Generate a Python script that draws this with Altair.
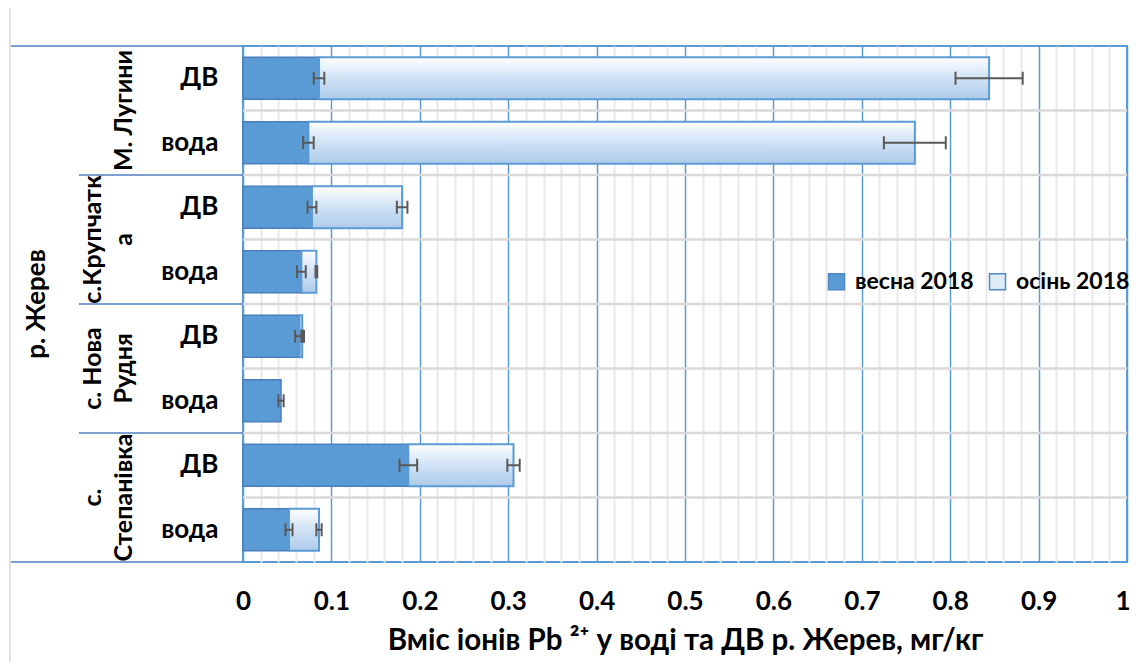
import altair as alt
import pandas as pd

FONT = "Lato, 'Open Sans', sans-serif"

# ---- data ----
sites = ["М. Лугини", "с.Крупчатка", "с. Нова Рудня", "с. Степанівка"]
site_text = ["\nМ. Лугини", "с.Крупчатк\nа", "с. Нова\nРудня", "с.\nСтепанівка"]
types = ["ДВ", "вода"]
river = "р. Жерев"
seasons = ["весна 2018", "осінь 2018"]

spring = [0.086, 0.074, 0.078, 0.066, 0.064, 0.043, 0.187, 0.052]
autumn = [0.758, 0.686, 0.102, 0.017, 0.003, 0.000, 0.119, 0.034]
spring_err = [0.006, 0.006, 0.005, 0.005, 0.005, 0.003, 0.010, 0.004]
autumn_err = [0.038, 0.035, 0.006, 0.001, 0.001, 0.000, 0.007, 0.003]

x_ticks = [round(i * 0.02, 2) for i in range(51)]
x_title = "Вміс іонів Pb ²⁺  у воді та ДВ р. Жерев, мг/кг"

W, H = 884, 516

rows = [f"{s}|{t}" for s in sites for t in types]
df = pd.DataFrame({
    "row": rows,
    "site": [s for s in sites for _ in types],
    "idx": list(range(len(rows))),
    "spring": spring,
    "autumn": autumn,
    "spring_err": spring_err,
    "autumn_err": autumn_err,
})
df["total"] = df["spring"] + df["autumn"]

err_df = pd.concat([
    pd.DataFrame({"row": rows, "center": df["spring"], "err": spring_err}),
    pd.DataFrame({"row": rows, "center": df["total"], "err": autumn_err}),
])
err_df = err_df[err_df["err"] > 0].copy()
err_df["lo"] = err_df["center"] - err_df["err"]
err_df["hi"] = err_df["center"] + err_df["err"]

site_df = pd.DataFrame({"row": [f"{s}|{types[0]}" for s in sites], "label": site_text,
                        "idx": list(range(len(sites)))})
one = pd.DataFrame({"river": [river]})

yscale = alt.Scale(domain=rows, paddingInner=0, paddingOuter=0)
xscale = alt.Scale(domain=[0, 1], nice=False, zero=True)
MAJOR = "abs(datum.value*10 - round(datum.value*10)) < 0.001"
LAST = "datum.value > 0.999"

x_axis = alt.Axis(
    values=x_ticks, grid=True,
    gridColor={"condition": {"test": MAJOR, "value": "#5B9BD5"}, "value": "#E9E9E9"},
    gridWidth={"condition": {"test": MAJOR, "value": 1.5}, "value": 2},
    labelExpr=f"({MAJOR}) ? format(datum.value, '~g') : ''",
    labelAlign={"condition": {"test": LAST, "value": "right"}, "value": "center"},
    labelOffset={"condition": {"test": LAST, "value": 3}, "value": 0},
    ticks=False, domain=False, labelPadding=26, labelFontSize=26, labelFont=FONT,
    labelFontWeight="bold", labelColor="black", labelFlush=False, labelOverlap=False,
    title=x_title, titleFontSize=29.5, titleFont=FONT, titleFontWeight="bold",
    titleColor="black", titlePadding=12,
)
y_axis = alt.Axis(
    labelExpr="split(datum.label, '|')[1]", ticks=False, domain=False, grid=False,
    labelPadding=25, labelFontSize=26, labelFontWeight="bold", labelFont=FONT,
    labelColor="black", title=None, labelLimit=200,
)

Y = dict(field="row", type="nominal", scale=yscale, axis=y_axis)

base = alt.Chart(df)

hgrid = base.transform_filter("datum.idx > 0").mark_rule(color="#D9D9D9", strokeWidth=2.5).encode(
    y=alt.Y(bandPosition=0, **Y),
    x=alt.value(0), x2=alt.value(W),
)

grad = alt.LinearGradient(
    gradient="linear",
    stops=[alt.GradientStop(color="#FFFFFF", offset=0),
           alt.GradientStop(color="#D3E4F5", offset=0.45),
           alt.GradientStop(color="#AECBEA", offset=1)],
    x1=0, x2=0, y1=0, y2=1,
)

spring_bars = base.transform_calculate(season=f"'{seasons[0]}'").mark_bar(
    height={"band": 0.65}, stroke="#4A7FBF", strokeWidth=1.5
).encode(
    y=alt.Y(**Y),
    x=alt.X("spring:Q", scale=xscale, axis=x_axis),
    color=alt.Color("season:N", scale=alt.Scale(domain=seasons, range=["#5B9BD5", "#DDEBF7"]),
                    legend=alt.Legend(orient="none", legendX=582, legendY=224, direction="horizontal",
                                      title=None, symbolType="square", symbolSize=256,
                                      symbolStrokeColor="#4F88C6", symbolStrokeWidth=1.5,
                                      labelFontSize=23, labelFont=FONT, labelFontWeight="bold",
                                      labelColor="black", labelOffset=7, columnPadding=12,
                                      labelLimit=400, padding=0)),
)

autumn_bars = base.transform_filter("datum.autumn > 0").mark_bar(
    height={"band": 0.65}, fill=grad, stroke="#5B9BD5", strokeWidth=2
).encode(
    y=alt.Y(**Y),
    x=alt.X("spring:Q", scale=xscale, axis=x_axis),
    x2="total:Q",
)

ebase = alt.Chart(err_df)
err_line = ebase.mark_rule(color="#595959", strokeWidth=2).encode(
    y=alt.Y(**Y),
    x=alt.X("lo:Q", scale=xscale, axis=x_axis), x2="hi:Q",
)
cap_lo = ebase.mark_tick(color="#595959", thickness=2, size=13, opacity=1).encode(
    y=alt.Y(**Y),
    x=alt.X("lo:Q", scale=xscale, axis=x_axis),
)
cap_hi = ebase.mark_tick(color="#595959", thickness=2, size=13, opacity=1).encode(
    y=alt.Y(**Y),
    x=alt.X("hi:Q", scale=xscale, axis=x_axis),
)

site_labels = alt.Chart(site_df).mark_text(
    angle=270, fontSize=25, fontWeight="bold", font=FONT, lineBreak="\n", lineHeight=31,
    align="center", baseline="middle", color="black"
).encode(
    y=alt.Y(bandPosition=1, **Y),
    x=alt.value(-150),
    text="label:N",
)

sep_lines = alt.Chart(site_df).transform_filter("datum.idx > 0").mark_rule(
    color="#4F81BD", strokeWidth=1.5
).encode(
    y=alt.Y(bandPosition=0, **Y),
    x=alt.value(-164), x2=alt.value(0),
)

river_label = alt.Chart(one).mark_text(
    angle=270, fontSize=26, fontWeight="bold", font=FONT, align="center",
    baseline="middle", color="black"
).encode(text="river:N", x=alt.value(-206), y=alt.value(H / 2))

top_line = alt.Chart(one).mark_rule(color="#4F81BD", strokeWidth=1.5).encode(
    x=alt.value(-232), x2=alt.value(0), y=alt.value(0))
bottom_line = alt.Chart(one).mark_rule(color="#4F81BD", strokeWidth=1.5).encode(
    x=alt.value(-232), x2=alt.value(0), y=alt.value(H))
frame_line = alt.Chart(one).mark_rule(color="#D9D9D9", strokeWidth=1.5).encode(
    x=alt.value(-233), y=alt.value(-38), y2=alt.value(H + 100))

chart = alt.layer(
    hgrid, spring_bars, autumn_bars, err_line, cap_lo, cap_hi,
    site_labels, sep_lines, river_label, top_line, bottom_line, frame_line,
).properties(
    width=W, height=H, autosize="none", background="white",
    padding={"left": 235, "top": 38, "right": 3, "bottom": 100},
).configure_view(
    stroke="#5B9BD5", strokeWidth=2
)

chart.save("out.html", embed_options={"renderer": "svg", "actions": False})
